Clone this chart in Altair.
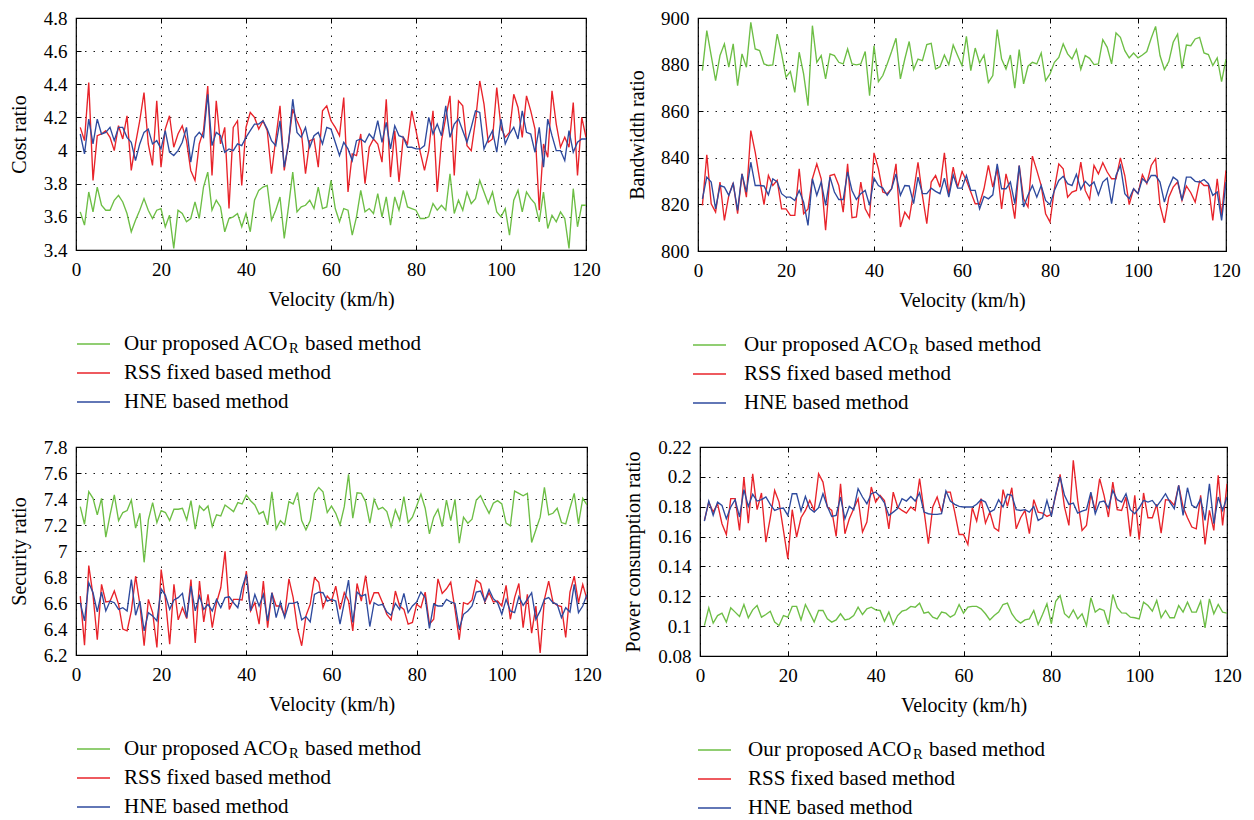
import altair as alt
import pandas as pd

FONT = "Liberation Serif"
X_TICKS = [0, 20, 40, 60, 80, 100, 120]
SERIES = ["a", "b", "c"]
COLORS = ["#6DBE45", "#E8232A", "#2E4A9E"]
LEG_ROW1 = ["Our proposed ACO", "R", "based method"]
LEG_ROW2 = "RSS fixed based method"
LEG_ROW3 = "HNE based method"

# ---------------- Cost ratio ----------------
cost_green = [3.63,3.55,3.75,3.63,3.78,3.67,3.64,3.64,3.70,3.73,3.69,3.62,3.51,3.58,3.64,3.71,3.64,3.59,3.64,3.65,3.54,3.61,3.41,3.64,3.62,3.57,3.59,3.69,3.59,3.78,3.87,3.64,3.70,3.66,3.51,3.59,3.60,3.62,3.54,3.62,
              3.51,3.70,3.76,3.78,3.79,3.58,3.64,3.72,3.47,3.66,3.87,3.63,3.66,3.67,3.70,3.65,3.78,3.65,3.66,3.82,3.65,3.57,3.65,3.64,3.49,3.60,3.76,3.63,3.65,3.62,3.74,3.60,3.72,3.55,3.72,3.64,3.76,3.66,3.65,3.64,
              3.59,3.59,3.60,3.68,3.64,3.67,3.64,3.86,3.62,3.70,3.64,3.75,3.68,3.71,3.82,3.75,3.68,3.75,3.63,3.60,3.65,3.49,3.70,3.76,3.63,3.75,3.71,3.68,3.57,3.75,3.53,3.61,3.57,3.63,3.59,3.41,3.77,3.54,3.67,3.67]
cost_red = [4.14,4.06,4.41,3.82,4.09,4.10,4.12,4.08,4.00,4.15,4.07,4.21,3.88,4.04,4.18,4.35,4.04,3.91,4.30,3.90,4.13,4.21,4.02,4.10,4.15,4.06,3.88,3.82,4.04,4.12,4.39,3.85,4.30,4.04,4.14,3.65,4.14,4.18,3.79,4.14,
            4.23,4.20,4.13,4.18,4.12,3.86,4.07,4.27,3.88,4.05,4.25,4.18,4.12,3.86,4.06,4.07,3.90,4.24,4.27,4.18,4.14,4.09,4.32,3.75,3.98,3.97,4.10,3.80,4.02,4.07,4.04,3.93,4.31,3.84,4.12,3.81,4.08,4.04,4.24,4.12,
            3.99,3.88,4.00,4.24,3.75,4.06,4.20,4.33,3.85,4.30,4.27,4.03,4.00,4.18,4.42,4.28,4.05,4.07,4.38,4.14,4.08,4.11,4.34,4.26,4.08,4.33,4.24,4.13,3.64,4.04,3.96,4.36,4.16,4.02,4.08,4.02,4.29,3.85,4.20,4.08]
cost_blue = [4.10,3.98,4.19,4.04,4.19,4.10,4.11,4.14,4.06,4.14,4.14,4.08,4.05,3.94,4.04,4.11,4.13,4.04,4.06,4.01,4.12,3.99,3.97,4.00,4.05,4.14,3.93,4.08,4.11,4.08,4.34,4.03,4.11,4.09,3.99,4.01,4.00,4.04,4.03,4.08,
             4.12,4.16,4.16,4.18,4.13,4.06,4.03,4.18,3.90,4.04,4.31,4.11,4.08,4.14,4.02,4.09,4.11,4.04,4.14,4.13,4.05,3.97,4.05,4.01,3.94,4.06,4.07,4.05,4.10,4.07,4.18,4.05,4.17,4.01,4.15,4.09,4.08,4.02,4.02,4.01,
             4.01,4.03,4.20,4.10,4.16,4.09,4.27,4.08,4.16,4.19,4.12,4.05,4.14,4.24,4.23,4.01,4.07,4.12,3.99,4.19,4.04,4.10,4.14,4.07,4.24,4.11,4.10,3.99,4.14,3.90,4.19,4.09,4.00,4.00,3.94,4.12,3.99,4.05,4.07,4.07]

# ---------------- Bandwidth ratio ----------------
bw_green = [877.4,894.6,883.9,873.1,883.9,888.9,878.9,888.9,871.0,884.6,878.9,898.1,886.7,886.0,880.3,879.6,879.9,893.1,884.6,874.6,877.0,868.1,885.3,876.0,862.4,896.7,881.0,883.9,873.9,884.6,883.9,881.0,880.3,886.7,880.3,879.9,880.3,885.6,866.7,888.1,
            872.7,875.3,880.3,885.6,891.3,873.9,882.4,889.9,877.9,882.4,881.7,888.6,889.1,878.1,879.1,884.1,880.0,888.4,883.9,879.6,892.1,877.4,887.1,880.7,884.1,872.4,875.3,895.0,882.4,878.1,884.1,869.9,886.4,871.7,879.3,881.0,880.3,885.0,873.1,876.0,
            881.0,883.1,888.9,884.6,882.4,886.4,877.9,883.9,882.7,880.0,880.3,890.7,887.4,880.3,893.6,891.7,886.0,882.9,885.0,882.9,884.1,885.6,891.3,896.4,883.9,877.9,881.3,889.6,893.1,878.4,888.4,888.1,891.0,891.7,885.0,884.3,879.6,882.9,872.7,882.4]
bw_red = [819.6,841.3,820.3,816.7,829.6,813.1,823.9,829.3,816.0,833.1,823.1,851.7,842.4,831.0,819.9,832.4,828.1,830.3,818.1,818.1,815.3,815.3,835.3,816.0,818.1,831.0,837.4,831.0,808.9,832.4,832.9,828.1,816.7,837.4,814.3,814.6,829.6,818.1,814.6,842.1,
          835.3,825.3,824.6,826.7,837.4,810.3,816.7,813.9,825.3,838.1,823.9,811.7,829.6,832.4,827.4,842.1,823.9,836.0,827.4,834.1,830.3,825.3,820.3,820.3,826.7,836.7,827.4,835.3,818.1,833.1,825.3,813.9,836.7,822.4,818.9,840.7,834.6,828.1,816.0,812.4,
          826.7,837.4,835.3,823.1,825.3,826.0,838.1,826.0,822.1,836.7,833.1,837.9,833.9,831.0,831.0,840.0,832.4,819.9,826.7,824.6,832.7,828.9,836.7,839.6,819.6,812.1,823.1,827.4,829.6,821.7,827.9,825.0,821.0,829.9,828.1,828.1,813.1,831.0,815.3,834.6]
bw_blue = [822.4,831.7,829.6,818.1,828.1,827.4,823.9,828.9,817.4,833.1,825.3,838.1,828.1,828.1,827.9,824.1,831.0,829.6,824.6,823.1,823.1,821.7,826.0,821.0,811.0,831.0,823.9,829.6,819.6,831.7,825.3,822.1,822.1,833.9,826.0,822.1,824.6,826.0,819.6,831.3,
           828.1,827.0,823.9,826.7,833.1,823.9,828.1,827.9,820.3,831.7,824.6,824.6,827.0,825.6,824.6,831.3,823.1,832.7,827.0,827.0,832.4,826.0,826.0,818.1,823.4,822.4,824.1,837.4,826.7,826.7,829.6,820.3,836.7,818.9,823.9,828.1,823.1,828.1,821.7,819.9,
           826.0,830.3,832.1,828.9,828.1,832.9,826.4,829.9,827.9,829.6,824.1,829.6,831.3,820.3,832.4,836.7,824.6,822.4,826.7,824.6,831.0,829.3,832.4,832.4,829.6,821.0,827.4,831.7,830.3,821.7,831.7,831.7,829.9,829.6,830.7,828.9,823.9,825.3,813.1,829.6]

# ---------------- Security ratio ----------------
sec_green = [7.341,7.206,7.456,7.405,7.278,7.405,7.107,7.278,7.431,7.234,7.296,7.311,7.392,7.176,7.290,6.913,7.239,7.372,7.219,7.311,7.296,7.234,7.321,7.321,7.329,7.239,7.387,7.168,7.346,7.311,7.346,7.188,7.278,7.270,7.354,7.329,7.303,7.372,7.362,7.431,
             7.387,7.354,7.285,7.303,7.201,7.456,7.168,7.234,7.201,7.380,7.362,7.451,7.234,7.163,7.234,7.443,7.489,7.456,7.296,7.346,7.290,7.201,7.341,7.589,7.252,7.448,7.443,7.380,7.214,7.397,7.321,7.336,7.303,7.188,7.316,7.234,7.418,7.219,7.260,7.346,
             7.438,7.329,7.132,7.260,7.321,7.188,7.392,7.234,7.397,7.061,7.260,7.214,7.245,7.392,7.425,7.354,7.290,7.367,7.387,7.362,7.214,7.194,7.461,7.443,7.425,7.443,7.066,7.163,7.260,7.489,7.278,7.290,7.329,7.219,7.209,7.329,7.443,7.209,7.405,7.354]
sec_red = [6.653,6.276,6.888,6.659,6.317,6.743,6.608,6.615,6.692,6.590,6.399,6.386,6.539,6.806,6.590,6.271,6.628,6.526,6.258,6.857,6.628,6.284,6.743,6.470,6.564,6.480,6.781,6.292,6.768,6.455,6.666,6.411,6.602,6.717,6.997,6.551,6.628,6.628,6.623,6.845,
           6.539,6.602,6.437,6.768,6.411,6.679,6.577,6.577,6.501,6.786,6.641,6.404,6.271,6.501,6.590,6.794,6.760,6.564,6.653,6.615,6.730,6.551,6.679,6.615,6.386,6.750,6.615,6.811,6.590,6.679,6.679,6.602,6.513,6.470,6.692,6.577,6.551,6.437,6.450,6.590,
           6.564,6.684,6.437,6.475,6.786,6.674,6.709,6.760,6.551,6.317,6.602,6.590,6.623,6.776,6.750,6.608,6.679,6.608,6.615,6.577,6.735,6.475,6.641,6.750,6.411,6.666,6.368,6.577,6.215,6.628,6.768,6.608,6.582,6.572,6.335,6.684,6.806,6.602,6.743,6.628]
sec_blue = [6.602,6.462,6.755,6.679,6.531,6.684,6.539,6.615,6.602,6.551,6.564,6.539,6.781,6.506,6.615,6.386,6.526,6.501,6.462,6.709,6.659,6.551,6.623,6.641,6.674,6.488,6.730,6.539,6.653,6.551,6.590,6.539,6.628,6.564,6.641,6.648,6.602,6.564,6.717,6.819,
            6.539,6.666,6.577,6.666,6.462,6.679,6.488,6.608,6.488,6.597,6.597,6.608,6.470,6.495,6.455,6.666,6.684,6.679,6.615,6.628,6.615,6.437,6.602,6.776,6.450,6.684,6.653,6.666,6.419,6.602,6.582,6.590,6.531,6.506,6.597,6.551,6.674,6.526,6.577,6.608,
            6.684,6.641,6.404,6.590,6.577,6.577,6.628,6.608,6.597,6.399,6.513,6.539,6.577,6.684,6.692,6.615,6.704,6.633,6.602,6.513,6.628,6.539,6.526,6.648,6.582,6.628,6.679,6.475,6.539,6.628,6.641,6.602,6.590,6.488,6.564,6.531,6.743,6.526,6.577,6.666]

# ---------------- Power consumption ratio ----------------
pow_green = [0.1004,0.1123,0.1020,0.1071,0.1087,0.1027,0.1123,0.1094,0.1065,0.1145,0.1056,0.1109,0.1138,0.1060,0.1078,0.1100,0.1027,0.1004,0.1071,0.1060,0.1132,0.1132,0.1042,0.1145,0.1087,0.1027,0.1105,0.1105,0.1049,0.1027,0.1042,0.1083,0.1042,0.1049,0.1071,0.1127,0.1078,0.1116,0.1127,0.1109,
             0.1105,0.1033,0.1094,0.1011,0.1071,0.1100,0.1109,0.1132,0.1127,0.1154,0.1087,0.1094,0.1060,0.1049,0.1094,0.1087,0.1060,0.1078,0.1145,0.1087,0.1127,0.1132,0.1132,0.1116,0.1083,0.1042,0.1071,0.1094,0.1145,0.1154,0.1083,0.1042,0.1020,0.1042,0.1049,0.1105,0.1011,0.1078,0.1150,0.1015,
             0.1167,0.1205,0.1083,0.1056,0.1109,0.1049,0.1083,0.1004,0.1190,0.1094,0.1116,0.1105,0.1011,0.1212,0.1123,0.1089,0.1087,0.1060,0.1056,0.1049,0.1161,0.1138,0.1100,0.1172,0.1056,0.1105,0.1056,0.1056,0.1138,0.1094,0.1161,0.1094,0.1094,0.1167,0.0989,0.1183,0.1083,0.1145,0.1094,0.1087]
pow_red = [0.1708,0.1831,0.1764,0.1820,0.1686,0.1614,0.1854,0.1854,0.1641,0.1999,0.1690,0.2021,0.1780,0.1892,0.1563,0.1726,0.1909,0.1831,0.1641,0.1451,0.1780,0.1597,0.1726,0.1775,0.1842,0.1775,0.2021,0.1965,0.1798,0.1775,0.1601,0.1954,0.1619,0.1719,0.1787,0.1854,0.1630,0.1697,0.1932,0.1831,
           0.1876,0.1842,0.1652,0.1898,0.1798,0.1775,0.1757,0.1798,0.1775,0.1988,0.1775,0.1552,0.1798,0.1865,0.1764,0.1898,0.1898,0.1764,0.1614,0.1614,0.1547,0.1793,0.1704,0.1854,0.1690,0.1764,0.1659,0.1637,0.1914,0.1802,0.1927,0.1652,0.1726,0.1775,0.1619,0.1847,0.1764,0.1757,0.1735,0.1749,
           0.1876,0.2017,0.1798,0.1675,0.2111,0.1842,0.1641,0.1675,0.1887,0.1775,0.1988,0.1876,0.1731,0.1965,0.1780,0.1775,0.1865,0.1601,0.1876,0.1579,0.1892,0.1726,0.1726,0.1816,0.1623,0.1847,0.1842,0.1809,0.1943,0.1798,0.1726,0.1664,0.1652,0.1876,0.1547,0.1775,0.1641,0.2010,0.1675,0.1954]
pow_blue = [0.1704,0.1838,0.1742,0.1831,0.1809,0.1719,0.1798,0.1847,0.1731,0.1914,0.1802,0.1883,0.1838,0.1847,0.1865,0.1816,0.1775,0.1787,0.1791,0.1742,0.1887,0.1887,0.1771,0.1869,0.1787,0.1764,0.1793,0.1887,0.1802,0.1735,0.1742,0.1865,0.1719,0.1802,0.1780,0.1921,0.1865,0.1820,0.1887,0.1898,
            0.1869,0.1825,0.1742,0.1764,0.1787,0.1854,0.1838,0.1869,0.1838,0.1892,0.1764,0.1753,0.1749,0.1749,0.1753,0.1905,0.1838,0.1816,0.1802,0.1798,0.1798,0.1798,0.1816,0.1847,0.1831,0.1764,0.1780,0.1847,0.1798,0.1883,0.1876,0.1780,0.1775,0.1780,0.1764,0.1802,0.1708,0.1726,0.1842,0.1735,
            0.1887,0.1999,0.1876,0.1816,0.1825,0.1757,0.1771,0.1780,0.1898,0.1753,0.1831,0.1838,0.1793,0.1909,0.1847,0.1831,0.1887,0.1780,0.1753,0.1793,0.1842,0.1831,0.1842,0.1802,0.1842,0.1887,0.1831,0.1787,0.1943,0.1742,0.1927,0.1809,0.1793,0.1854,0.1708,0.1954,0.1686,0.1865,0.1775,0.1865]

LABEL_FS = 19
TITLE_FS = 20
LEG_FS = 21
LABEL_EXPR = "'' + round(datum.value * 100) / 100"


def panel(green, red, blue, ytitle, ydomain, yticks, W, H, title_pad, lx, tx):
    rows = []
    for key, vals in zip(SERIES, [green, red, blue]):
        for i, v in enumerate(vals):
            rows.append({"v": i + 1, "val": v, "s": key})
    df = pd.DataFrame(rows)
    xs = alt.Scale(domain=[0, 120], nice=False, zero=False)
    ys = alt.Scale(domain=ydomain, nice=False, zero=False)

    lines = alt.Chart(df).mark_line(strokeWidth=1.35, clip=True).encode(
        x=alt.X("v:Q", scale=xs, axis=alt.Axis(
            values=X_TICKS, title="Velocity (km/h)", orient="bottom", offset=-5, tickSize=5,
            labelFlush=False, domain=False, grid=True, labelPadding=10, titlePadding=10)),
        y=alt.Y("val:Q", scale=ys, axis=alt.Axis(
            values=yticks, title=ytitle, orient="left", offset=-5, tickSize=5, labelExpr=LABEL_EXPR,
            labelFlush=False, domain=False, grid=True, labelPadding=9, titlePadding=title_pad)),
        color=alt.Color("s:N", scale=alt.Scale(domain=SERIES, range=COLORS), legend=None),
        detail="s:N",
    )
    ticks = alt.Chart(df).mark_point(opacity=0).encode(
        x=alt.X("v:Q", scale=xs, axis=alt.Axis(
            values=X_TICKS, title=None, orient="top", offset=-5, tickSize=5, labels=False,
            domain=False, grid=False)),
        y=alt.Y("val:Q", scale=ys, axis=alt.Axis(
            values=yticks, title=None, orient="right", offset=-5, tickSize=5, labels=False,
            domain=False, grid=False)),
    )
    one = pd.DataFrame({"k": [0]})
    ly = [H + 94, H + 123, H + 152]
    legend = []
    for yy, col in zip(ly, COLORS):
        legend.append(alt.Chart(one).mark_rule(color=col, strokeWidth=1.35).encode(
            x=alt.value(lx), x2=alt.value(lx + 33), y=alt.value(yy)))

    def txt(t, x, y, fs):
        return alt.Chart(one).mark_text(text=t, align="left", baseline="middle", font=FONT,
                                        fontSize=fs, color="black").encode(
            x=alt.value(x), y=alt.value(y))
    legend.append(txt(LEG_ROW1[0], tx, ly[0], LEG_FS))
    legend.append(txt(LEG_ROW1[1], tx + 165, ly[0] + 5, 14.5))
    legend.append(txt(LEG_ROW1[2], tx + 181, ly[0], LEG_FS))
    legend.append(txt(LEG_ROW2, tx, ly[1], LEG_FS))
    legend.append(txt(LEG_ROW3, tx, ly[2], LEG_FS))

    return alt.layer(lines, ticks, *legend).resolve_axis(x="independent", y="independent").properties(
        width=W, height=H)


p1 = panel(cost_green, cost_red, cost_blue, "Cost ratio", [3.4, 4.8],
           [3.4, 3.6, 3.8, 4.0, 4.2, 4.4, 4.6, 4.8], 510, 232, 14, 1, 48)
p2 = panel(bw_green, bw_red, bw_blue, "Bandwidth ratio", [800, 900],
           [800, 820, 840, 860, 880, 900], 528, 233, 13, -5, 46)
p3 = panel(sec_green, sec_red, sec_blue, "Security ratio", [6.2, 7.8],
           [6.2, 6.4, 6.6, 6.8, 7.0, 7.2, 7.4, 7.6, 7.8], 511, 208, 14, 1, 48)
p4 = panel(pow_green, pow_red, pow_blue, "Power consumption ratio", [0.08, 0.22],
           [0.08, 0.10, 0.12, 0.14, 0.16, 0.18, 0.20, 0.22], 527, 209, 14, -2, 48)

chart = alt.vconcat(
    alt.hconcat(p1, p2, spacing=25),
    alt.hconcat(p3, p4, spacing=21),
    spacing=23,
).properties(
    padding={"left": 0, "top": 0, "right": 0, "bottom": 0}
).configure_view(
    stroke="black", strokeWidth=1.2
).configure_axis(
    labelFont=FONT, titleFont=FONT, labelFontSize=LABEL_FS, titleFontSize=TITLE_FS,
    labelColor="black", titleColor="black", titleFontWeight="normal", tickColor="black",
    tickWidth=1, gridColor="black", gridDash=[1.5, 7], gridWidth=0.9
)

chart.save("out.html", embed_options={"renderer": "svg", "actions": False})
